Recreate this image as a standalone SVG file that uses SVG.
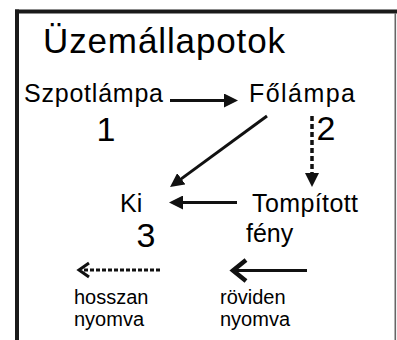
<svg xmlns="http://www.w3.org/2000/svg" width="397" height="340" viewBox="0 0 397 340">
<defs>
<style>
text{font-family:"Liberation Sans",Arial,sans-serif;fill:#000}
.t{font-size:35px}
.l{font-size:25px}
.n{font-size:34px;text-anchor:middle}
.s{font-size:20px}
.c{stroke:#111;stroke-width:3;fill:none}
.d{stroke-dasharray:5 3;stroke-width:3.5}
.ch{fill:none;stroke:#111;stroke-linejoin:miter}
</style>
<marker id="ah" viewBox="0 0 14 14" refX="4" refY="7" markerWidth="14" markerHeight="14" markerUnits="userSpaceOnUse" orient="auto">
<path d="M0,0 L14,7 L0,14 z" fill="#111"/>
</marker>
</defs>
<rect width="397" height="340" fill="#fff"/>
<g id="frame">
<rect x="15" y="9.5" width="382" height="4" fill="#1a1a1a"/>
<rect x="15" y="9.5" width="4" height="330.5" fill="#1a1a1a"/>
<rect x="394.5" y="13" width="1.6" height="327" fill="#666"/>
</g>
<g id="title"><text class="t" x="43" y="53" textLength="242">Üzemállapotok</text></g>
<g id="n1"><text class="l" x="24" y="102" textLength="139">Szpotlámpa</text><text class="n" x="106" y="141">1</text></g>
<g id="n2"><text class="l" x="249" y="102" textLength="106">Főlámpa</text><text class="n" x="326" y="140">2</text></g>
<g id="n3"><text class="l" x="120" y="212">Ki</text><text class="n" x="146" y="247">3</text></g>
<g id="n4"><text class="l" x="252" y="212" textLength="106">Tompított</text><text class="l" x="246" y="242">fény</text></g>
<g id="legend1"><text class="s" x="74" y="304">hosszan</text><text class="s" x="74" y="326">nyomva</text></g>
<g id="legend2"><text class="s" x="220" y="304">röviden</text><text class="s" x="220" y="326">nyomva</text></g>
<g id="connectors">
<line class="c" x1="170" y1="100.5" x2="228" y2="100.5" marker-end="url(#ah)"/>
<line class="c" x1="267" y1="116" x2="178.1" y2="181.1" marker-end="url(#ah)"/>
<line class="c d" x1="312" y1="116" x2="312" y2="177" marker-end="url(#ah)"/>
<line class="c" x1="237" y1="202.5" x2="179" y2="202.5" marker-end="url(#ah)"/>
<line class="c" x1="160" y1="270" x2="82" y2="270" stroke-width="2.5" stroke-dasharray="4 2"/>
<polyline class="ch" points="89,263 79,270 89,277" stroke-width="3"/>
<line class="c" x1="307" y1="270.5" x2="236" y2="270.5" stroke-width="4.5"/>
<polyline class="ch" points="246,260 233,270.5 246,281" stroke-width="4.5"/>
</g>
</svg>
